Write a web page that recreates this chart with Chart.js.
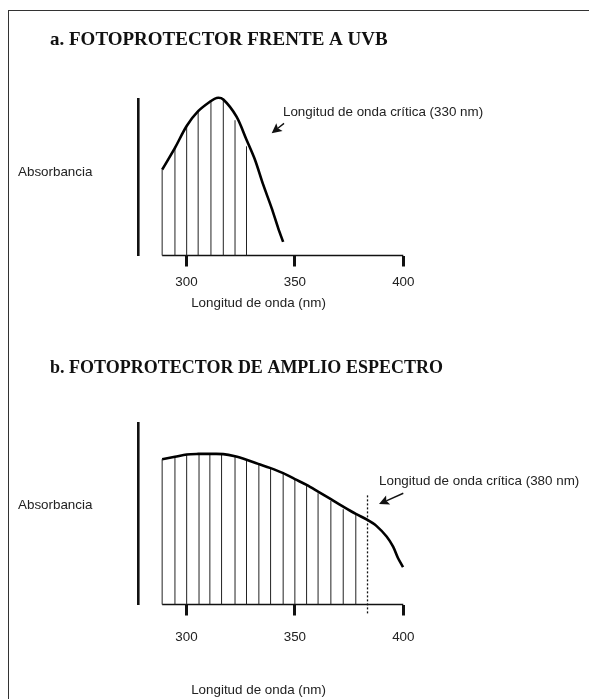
<!DOCTYPE html>
<html><head><meta charset="utf-8">
<script src="https://cdn.jsdelivr.net/npm/chart.js@4/dist/chart.umd.min.js"></script>
<style>
html,body{margin:0;padding:0;background:#fff;width:589px;height:699px;overflow:hidden;}
#frame{position:absolute;left:8px;top:10px;width:700px;height:800px;border-left:1.5px solid #333;border-top:1.5px solid #333;}
.wrap{position:absolute;left:0;width:589px;}
canvas{display:block;}
</style></head><body>
<div id="frame"></div>
<div class="wrap" style="top:0;height:340px"><canvas id="cA" width="589" height="340"></canvas></div>
<div class="wrap" style="top:340px;height:359px"><canvas id="cB" width="589" height="359"></canvas></div>
<script>
// ---- data (wavelength in nm, absorbance in relative units) ----
const xTickValues = [300, 350, 400];

const curveA_nm  = [288.8, 294.7, 300.1, 305.4, 311.3, 313.9, 317.0, 323.1, 327.7, 331.6, 335.4, 339.3, 342.3, 344.6];
const curveA_abs = [0.55, 0.69, 0.83, 0.925, 0.99, 1.01, 1.0, 0.89, 0.742, 0.614, 0.454, 0.304, 0.176, 0.087];
const hatchA_nm  = [288.8, 294.7, 300.1, 305.4, 311.3, 317.0, 322.4, 327.7];
const hatchA_abs = [0.55, 0.69, 0.83, 0.925, 0.99, 1.0, 0.867, 0.70];

const curveB_nm  = [288.8, 294.7, 300.1, 305.4, 310.8, 317.0, 322.4, 327.7, 333.1, 338.5, 344.6, 350.0, 355.4, 360.7, 366.6, 372.3, 378.1, 383.5, 387.6, 392.3, 395.3, 397.6, 399.9];
const curveB_abs = [0.802, 0.815, 0.828, 0.831, 0.831, 0.830, 0.818, 0.799, 0.776, 0.754, 0.725, 0.692, 0.660, 0.623, 0.581, 0.540, 0.500, 0.467, 0.434, 0.375, 0.319, 0.255, 0.206];
const hatchB_nm  = [288.8, 294.7, 300.1, 305.8, 310.8, 316.2, 322.4, 327.7, 333.4, 338.8, 344.6, 350.0, 355.4, 360.7, 366.6, 372.3, 378.1];
const hatchB_abs = [0.802, 0.815, 0.828, 0.831, 0.831, 0.830, 0.818, 0.799, 0.776, 0.754, 0.725, 0.692, 0.655, 0.614, 0.572, 0.526, 0.494];

const criticalB_line = [383.5];           // dotted marker wavelength (chart b)
const criticalB_span = [-0.049, 0.61];    // dotted marker vertical extent

const titles = ['a. FOTOPROTECTOR FRENTE A UVB', 'b. FOTOPROTECTOR DE AMPLIO ESPECTRO'];
const annotTexts = ['Longitud de onda crítica (330 nm)', 'Longitud de onda crítica (380 nm)'];
const yTitle = 'Absorbancia';
const xTitle = 'Longitud de onda (nm)';

const SANS = '"Liberation Sans", Arial, sans-serif';
const SERIF = '"Liberation Serif", "Times New Roman", serif';

const deco = {
  id: 'deco',
  afterDraw(chart, args, o) {
    const ctx = chart.ctx, xs = chart.scales.x, ys = chart.scales.y;
    ctx.save();
    ctx.textBaseline = 'middle';
    ctx.fillStyle = '#111';
    ctx.textAlign = 'left';
    ctx.font = 'bold ' + o.titleSize + 'px ' + SERIF;
    ctx.fillText(o.title, o.titleX, o.titleY);
    ctx.fillStyle = '#222';
    ctx.font = '13.4px ' + SANS;
    ctx.fillText(yTitle, o.yTitleX, ys.getPixelForValue(o.yTitleV));
    ctx.textAlign = 'center';
    ctx.fillText(xTitle, o.xTitleX, o.xTitleY);
    ctx.textAlign = 'left';
    ctx.fillText(o.annText, xs.getPixelForValue(o.annX), ys.getPixelForValue(o.annY));
    const x1 = xs.getPixelForValue(o.tail[0]), y1 = ys.getPixelForValue(o.tail[1]);
    const x2 = xs.getPixelForValue(o.tip[0]),  y2 = ys.getPixelForValue(o.tip[1]);
    const a = Math.atan2(y2 - y1, x2 - x1), hl = 10, hw = 5;
    ctx.strokeStyle = '#111'; ctx.fillStyle = '#111'; ctx.lineWidth = 1.4;
    ctx.beginPath(); ctx.moveTo(x1, y1);
    ctx.lineTo(x2 - hl * 0.8 * Math.cos(a), y2 - hl * 0.8 * Math.sin(a)); ctx.stroke();
    ctx.beginPath(); ctx.moveTo(x2, y2);
    ctx.lineTo(x2 - hl * Math.cos(a) + hw * Math.sin(a), y2 - hl * Math.sin(a) - hw * Math.cos(a));
    ctx.lineTo(x2 - hl * 0.8 * Math.cos(a), y2 - hl * 0.8 * Math.sin(a));
    ctx.lineTo(x2 - hl * Math.cos(a) - hw * Math.sin(a), y2 - hl * Math.sin(a) + hw * Math.cos(a));
    ctx.closePath(); ctx.fill();
    ctx.restore();
  }
};

function pts(xs, ys) { return xs.map((x, i) => ({x: x, y: ys[i]})); }
function hatch(xs, ys) {
  const out = [];
  xs.forEach((x, i) => { out.push({x: x, y: 0}, {x: x, y: ys[i]}, {x: x, y: null}); });
  return out;
}

function makeChart(id, cNm, cAbs, hNm, hAbs, extraSets, padding, tickPad, decoOpts) {
  const datasets = [
    {data: pts(cNm, cAbs), borderColor: '#000', borderWidth: 2.6, tension: 0.3, clip: false},
    {data: hatch(hNm, hAbs), borderColor: '#222', borderWidth: 1, tension: 0, spanGaps: false, clip: false},
    {data: [{x: cNm[0], y: 0}, {x: xTickValues[xTickValues.length - 1], y: 0}], borderColor: '#111', borderWidth: 1.6, tension: 0, clip: false}
  ].concat(extraSets);
  return new Chart(document.getElementById(id), {
    type: 'line',
    data: {datasets: datasets},
    options: {
      responsive: false, animation: false, events: [],
      layout: {padding: padding},
      elements: {point: {radius: 0}},
      plugins: {legend: {display: false}, tooltip: {enabled: false}, deco: decoOpts},
      scales: {
        x: {
          type: 'linear', min: 277.8, max: 400,
          afterFit(s) { s.height = 45; },
          afterBuildTicks(s) { s.ticks = xTickValues.map(v => ({value: v})); },
          grid: {drawOnChartArea: false, drawTicks: true, tickLength: 11, lineWidth: 3, color: '#111'},
          border: {display: false},
          ticks: {padding: tickPad, color: '#222', font: {size: 13.4, family: SANS}, maxRotation: 0, autoSkip: false}
        },
        y: {
          type: 'linear', min: 0, max: 1,
          afterFit(s) { s.width = 0; },
          ticks: {display: false},
          grid: {display: false},
          border: {display: true, width: 2.6, color: '#111'}
        }
      }
    },
    plugins: [deco]
  });
}

makeChart('cA', curveA_nm, curveA_abs, hatchA_nm, hatchA_abs, [],
  {left: 138.3, right: 185.7, top: 99.5, bottom: 39.5}, 8,
  {title: titles[0], titleSize: 19, titleX: 50, titleY: 40, yTitleX: 18, yTitleV: 0.535,
   xTitleX: 258.5, xTitleY: 303, annText: annotTexts[0], annX: 344.5, annY: 0.92,
   tail: [345, 0.847], tip: [339.3, 0.783]});

makeChart('cB', curveB_nm, curveB_abs, hatchB_nm, hatchB_abs,
  [{data: [{x: criticalB_line[0], y: criticalB_span[0]}, {x: criticalB_line[0], y: criticalB_span[1]}],
    borderColor: '#111', borderWidth: 1.3, borderDash: [2, 2], tension: 0, clip: false}],
  {left: 138.3, right: 185.7, top: 83.3, bottom: 49.5}, 14,
  {title: titles[1], titleSize: 18, titleX: 50, titleY: 28, yTitleX: 18, yTitleV: 0.55,
   xTitleX: 258.5, xTitleY: 350, annText: annotTexts[1], annX: 388.8, annY: 0.678,
   tail: [400, 0.614], tip: [388.8, 0.554]});
</script>
</body></html>
